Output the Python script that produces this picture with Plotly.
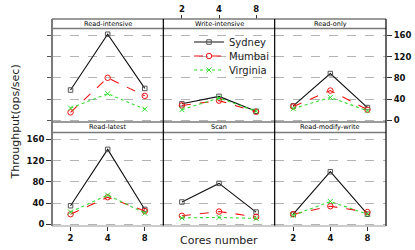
import plotly.graph_objects as go

cores = ["2", "4", "8"]
panels = ["Read-intensive", "Write-intensive", "Read-only",
          "Read-latest", "Scan", "Read-modify-write"]
y_ticks = [0, 40, 80, 120, 160]

# values per panel (order as in `panels`), per core count
sydney = [[57, 162, 60], [31, 45, 17], [27, 88, 24],
          [35, 141, 28], [42, 77, 23], [19, 99, 19]]
mumbai = [[15, 80, 46], [28, 37, 16], [26, 56, 20],
          [19, 51, 25], [16, 24, 14], [19, 34, 23]]
virginia = [[23, 50, 21], [20, 42, 17], [22, 43, 18],
            [23, 55, 21], [12, 13, 11], [17, 43, 19]]

series = [
    ("Sydney", sydney, "#111111", "#555555", "solid", "square-open", 4.5, "legend"),
    ("Mumbai", mumbai, "#ee1111", "#ee1111", "dash", "circle-open", 5.5, "legend2"),
    ("Virginia", virginia, "#33dd33", "#33dd33", "dot", "x-thin-open", 5, "legend3"),
]

W, H = 415, 250
# pixel frame of the panel block
LEFT, RIGHT, TOP, BOTTOM = 52, 386, 19, 226
ML, MR, MT, MB = LEFT, W - RIGHT, TOP, H - BOTTOM
PW = RIGHT - LEFT
PH = BOTTOM - TOP


def py(p):
    return (BOTTOM - p) / PH


def px(p):
    return (p - LEFT) / PW


row_plot = [(py(122), py(28.5)), (0.0, py(132.5))]
row_strip = [(py(28.5), 1.0), (py(132.5), py(122))]
yrange = [-3.2, 172.8]

fig = go.Figure()
tickfont = dict(family="DejaVu Sans", size=8.5, color="#111111",
                weight="bold")

for i, name in enumerate(panels):
    r, c = divmod(i, 3)
    k = i + 1
    xa = "x" if k == 1 else f"x{k}"
    ya = "y" if k == 1 else f"y{k}"
    for sname, data, col, mcol, dash, sym, ms, lg in series:
        fig.add_trace(go.Scatter(
            x=cores, y=data[i], xaxis=xa, yaxis=ya, mode="lines+markers",
            name=sname, legendgroup=sname, showlegend=(i == 0), legend=lg,
            line=dict(color=col, width=1.1, dash=dash),
            marker=dict(symbol=sym, size=ms, color=mcol,
                        line=dict(color=mcol, width=1)),
        ))
    xkey = "xaxis" if k == 1 else f"xaxis{k}"
    ykey = "yaxis" if k == 1 else f"yaxis{k}"
    xd = dict(domain=[c / 3, (c + 1) / 3], anchor=ya, type="category",
              categoryorder="array", categoryarray=cores,
              range=[-0.5, 2.5], showgrid=False, zeroline=False,
              showline=False, ticks="", showticklabels=False,
              fixedrange=True, automargin=False)
    if r == 1 and c in (0, 2):
        xd.update(ticks="outside", ticklen=4, tickcolor="#333333",
                  showticklabels=True, tickfont=tickfont, side="bottom")
    if r == 0 and c == 1:
        xd.update(ticks="outside", ticklen=4, tickcolor="#333333",
                  showticklabels=True, tickfont=tickfont, side="top",
                  anchor="free", position=1.0)
    yd = dict(domain=list(row_plot[r]), anchor=xa, range=yrange,
              tickvals=y_ticks, showgrid=True, gridcolor="#b4b4b4",
              griddash="dash", gridwidth=1, zeroline=False, showline=False,
              ticks="", showticklabels=False, fixedrange=True,
              automargin=False)
    if r == 1 and c == 0:
        yd.update(ticks="outside", ticklen=5, tickcolor="#333333",
                  showticklabels=True, tickfont=tickfont, side="left")
    if r == 0 and c == 0:
        yd.update(ticks="outside", ticklen=4, tickcolor="#555555",
                  showticklabels=False, side="left")
    if r == 0 and c == 2:
        yd.update(ticks="outside", ticklen=5, tickcolor="#333333",
                  showticklabels=True, tickfont=tickfont, side="right")
    fig.layout[xkey] = xd
    fig.layout[ykey] = yd

shapes = []
annotations = []
gray = "#7a7a7a"
# strips
for i, name in enumerate(panels):
    r, c = divmod(i, 3)
    s0, s1 = row_strip[r]
    annotations.append(dict(x=(c + 0.5) / 3, y=(s0 + s1) / 2, xref="paper",
                            yref="paper", text=name, showarrow=False,
                            xanchor="center", yanchor="middle",
                            font=dict(family="DejaVu Sans", size=6.5,
                                      color="#000000")))
for r in range(2):
    s0, s1 = row_strip[r]
    for yv in (s0, s1):
        shapes.append(dict(type="line", xref="paper", yref="paper", x0=0,
                           x1=1, y0=yv, y1=yv,
                           line=dict(color=gray, width=1.6)))
# column dividers
for c in (1, 2):
    shapes.append(dict(type="line", xref="paper", yref="paper", x0=c / 3,
                       x1=c / 3, y0=0, y1=1,
                       line=dict(color="#000000", width=1.2)))
# outer border
shapes.append(dict(type="line", xref="paper", yref="paper", x0=0, x1=0,
                   y0=0, y1=1, line=dict(color=gray, width=2)))
shapes.append(dict(type="line", xref="paper", yref="paper", x0=1, x1=1,
                   y0=0, y1=1, line=dict(color="#000000", width=1.2)))
shapes.append(dict(type="line", xref="paper", yref="paper", x0=0, x1=1,
                   y0=0, y1=0, line=dict(color="#999999", width=1)))

annotations.append(dict(x=px(15), y=0.5, xref="paper",
                        yref="paper", text="Throughput(ops/sec)",
                        textangle=-90, showarrow=False,
                        xanchor="center", yanchor="middle",
                        font=dict(family="DejaVu Sans", size=11,
                                  color="#222222")))
annotations.append(dict(x=0.5, y=py(240), xref="paper", yref="paper",
                        text="Cores number", showarrow=False,
                        xanchor="center", yanchor="middle",
                        font=dict(family="DejaVu Sans", size=11,
                                  color="#222222")))

legfont = dict(family="DejaVu Sans", size=10, color="#222222")


def leg(ypix):
    return dict(x=px(189), y=py(ypix), xanchor="left", yanchor="middle",
                bgcolor="rgba(0,0,0,0)", font=legfont, itemwidth=30,
                borderwidth=0)


fig.update_layout(
    width=W, height=H,
    margin=dict(l=ML, r=MR, t=MT, b=MB, pad=0, autoexpand=False),
    paper_bgcolor="white", plot_bgcolor="white",
    shapes=shapes, annotations=annotations,
    showlegend=True, hovermode=False,
    legend=leg(42), legend2=leg(56), legend3=leg(70),
)

fig.write_html(
    "out.html",
    config={"displayModeBar": False, "staticPlot": True},
    post_script="document.body.style.margin='0';"
                "document.body.style.overflow='hidden';",
)
